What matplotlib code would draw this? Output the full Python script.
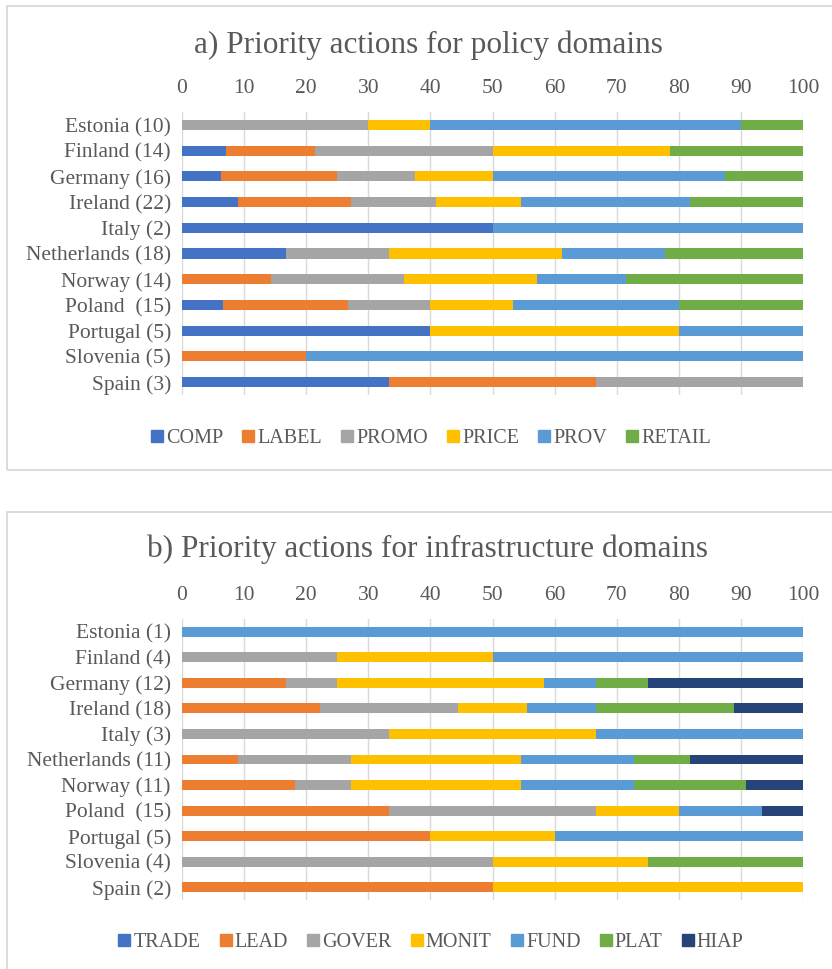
import matplotlib
matplotlib.use("Agg")
import matplotlib.pyplot as plt
from matplotlib.patches import Rectangle
from matplotlib.lines import Line2D
import numpy as np

plt.rcParams['font.family'] = ['Liberation Serif', 'DejaVu Serif']

# ---------------- data ----------------
countries_a = ["Estonia (10)", "Finland (14)", "Germany (16)", "Ireland (22)", "Italy (2)",
               "Netherlands (18)", "Norway (14)", "Poland  (15)", "Portugal (5)",
               "Slovenia (5)", "Spain (3)"]
series_a = ["COMP", "LABEL", "PROMO", "PRICE", "PROV", "RETAIL"]
COMP   = [0, 7.14, 6.25, 9.09, 50, 16.67, 0, 6.67, 40, 0, 33.33]
LABEL  = [0, 14.29, 18.75, 18.18, 0, 0, 14.29, 20.0, 0, 20, 33.33]
PROMO  = [30, 28.57, 12.5, 13.64, 0, 16.67, 21.43, 13.33, 0, 0, 33.34]
PRICE  = [10, 28.57, 12.5, 13.64, 0, 27.78, 21.43, 13.33, 40, 0, 0]
PROV   = [50, 0, 37.5, 27.27, 50, 16.67, 14.29, 26.67, 20, 80, 0]
RETAIL = [10, 21.43, 12.5, 18.18, 0, 22.21, 28.56, 20.0, 0, 0, 0]

countries_b = ["Estonia (1)", "Finland (4)", "Germany (12)", "Ireland (18)", "Italy (3)",
               "Netherlands (11)", "Norway (11)", "Poland  (15)", "Portugal (5)",
               "Slovenia (4)", "Spain (2)"]
series_b = ["TRADE", "LEAD", "GOVER", "MONIT", "FUND", "PLAT", "HIAP"]
TRADE = [0, 0, 0, 0, 0, 0, 0, 0, 0, 0, 0]
LEAD  = [0, 0, 16.67, 22.22, 0, 9.09, 18.18, 33.33, 40, 0, 50]
GOVER = [0, 25, 8.33, 22.22, 33.33, 18.18, 9.09, 33.33, 0, 50, 0]
MONIT = [0, 25, 33.33, 11.11, 33.33, 27.27, 27.27, 13.33, 20, 25, 50]
FUND  = [100, 50, 8.33, 11.11, 33.34, 18.18, 18.18, 13.34, 40, 0, 0]
PLAT  = [0, 0, 8.33, 22.22, 0, 9.09, 18.18, 0, 0, 25, 0]
HIAP  = [0, 0, 25.01, 11.12, 0, 18.19, 9.10, 6.67, 0, 0, 0]

ticks = [0, 10, 20, 30, 40, 50, 60, 70, 80, 90, 100]

colors_a = ["#4472C4", "#ED7D31", "#A5A5A5", "#FFC000", "#5B9BD5", "#70AD47"]
colors_b = ["#4472C4", "#ED7D31", "#A5A5A5", "#FFC000", "#5B9BD5", "#70AD47", "#264478"]

TXT = "#595959"
GRID = "#D9D9D9"
W, H = 832, 969

fig = plt.figure(figsize=(W / 100, H / 100), dpi=100)

def fx(px):
    return px / W

def fy(py):
    return 1 - py / H

# panel borders
for (x0, y0, x1, y1) in [(7, 6, 840, 470), (7, 512, 840, 980)]:
    fig.patches.append(Rectangle((fx(x0), fy(y1)), fx(x1 - x0), (y1 - y0) / H,
                                 transform=fig.transFigure, fill=False,
                                 edgecolor=GRID, linewidth=1.3, zorder=0))

def panel(title, title_y, cats, names, data, colors, ax_top, ax_bot, legend_y):
    ax = fig.add_axes([fx(182), fy(ax_bot), fx(803 - 182), (ax_bot - ax_top) / H])
    y = np.arange(len(cats))
    left = np.zeros(len(cats))
    handles = []
    for name, vals, c in zip(names, data, colors):
        vals = np.array(vals, dtype=float)
        ax.barh(y, vals, left=left, height=0.39, color=c, edgecolor='none', zorder=3)
        left += vals
        handles.append(Line2D([], [], marker='s', linestyle='none', markersize=8.0,
                              markerfacecolor=c, markeredgecolor=c, label=name))
    ax.set_xlim(0, 100)
    ax.set_ylim(len(cats) - 0.5, -0.5)
    ax.set_yticks(y)
    ax.set_yticklabels(cats, fontsize=15.5, color=TXT)
    ax.set_xticks(ticks)
    ax.set_xticklabels([str(t) for t in ticks], fontsize=15.5, color=TXT)
    ax.xaxis.tick_top()
    ax.tick_params(axis='x', length=0, pad=10)
    ax.tick_params(axis='y', length=0, pad=8)
    for s in ax.spines.values():
        s.set_visible(False)
    ax.grid(axis='x', color=GRID, linewidth=1.0, zorder=0)
    ax.set_axisbelow(True)
    fig.text(fx(428), fy(title_y), title, ha='center', va='center',
             fontsize=22.5, color=TXT)
    fig.legend(handles=handles, loc='center', bbox_to_anchor=(fx(431), fy(legend_y)),
               ncol=len(names), frameon=False, fontsize=14.5, handletextpad=0.15,
               columnspacing=0.95, labelcolor=TXT, handlelength=0.6)
    return ax

panel("a) Priority actions for policy domains", 45, countries_a, series_a,
      [COMP, LABEL, PROMO, PRICE, PROV, RETAIL], colors_a, 112, 395, 438)
panel("b) Priority actions for infrastructure domains", 549, countries_b, series_b,
      [TRADE, LEAD, GOVER, MONIT, FUND, PLAT, HIAP], colors_b, 619, 900, 942)

fig.savefig("out.png", dpi=100)
